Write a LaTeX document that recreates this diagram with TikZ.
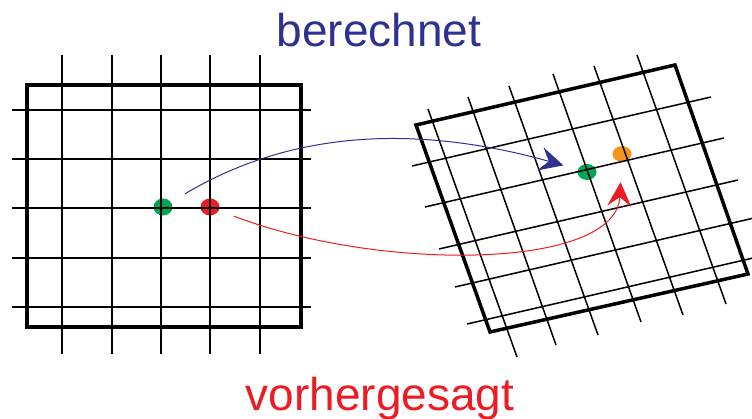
\documentclass[tikz,border=0pt]{standalone}
\usepackage{fontspec}
\setmainfont{Liberation Sans}
\usetikzlibrary{arrows.meta,shapes.geometric}
\definecolor{calcblue}{HTML}{2E3192}
\definecolor{predred}{HTML}{ED1C24}
\definecolor{dotgreen}{HTML}{00A651}
\definecolor{dotorange}{HTML}{F7941D}

\begin{document}
\begin{tikzpicture}[
    x=1pt, y=-1pt,
    lbl/.style={font=\fontsize{46}{50}\selectfont, inner sep=0pt},
    dot/.style={ellipse, minimum width=19pt, minimum height=17pt, inner sep=0pt},
    gridline/.style={line width=1.8pt},
    tiltline/.style={line width=1.5pt},
    frame/.style={line width=4pt, line join=miter},
    tiltframe/.style={line width=3.5pt, line join=miter},
    arr/.style={-{Stealth[length=24pt, width=24pt, inset=9pt]}, line width=1pt}
]
\useasboundingbox (0,0) rectangle (752,419);

\node[dot, fill=dotgreen] (gL) at (163,207) {};
\node[dot, fill=predred] (rL) at (210,207) {};
\node[dot, fill=dotgreen, minimum height=16pt] (gR) at (587,172) {};
\node[dot, fill=dotorange, minimum height=16pt] (oR) at (622,154) {};

% left grid
\foreach \x in {62,112,161,210,260}
    \draw[gridline] (\x,55) -- (\x,354);
\foreach \y in {110,159,208,258,307}
    \draw[gridline] (12,\y) -- (311,\y);
\draw[frame] (27,85) rectangle (301,327);

% right grid
\foreach \a/\b/\c/\d in {428/109/517/357, 468/97/556/345, 509/86/598/335,
    553/74/641/322, 594/66/683/315, 637/55/726/304}
    \draw[tiltline] (\a,\b) -- (\c,\d);
\foreach \a/\b/\c/\d in {412/166/711/97, 425/207/724/138, 439/249/738/180,
    455/287/754/218, 467/324/766/255}
    \draw[tiltline] (\a,\b) -- (\c,\d);
\draw[tiltframe] (416,125) -- (675,65) -- (748,274) -- (490,332) -- cycle;

\draw[arr, calcblue, shorten <=16pt, shorten >=15pt]
    (gL) .. controls (300,125) and (430,128) .. (gR);
\draw[arr, predred, shorten <=16pt, shorten >=20pt]
    (rL) .. controls (380,272) and (616,270) .. (oR);

\node[lbl, text=calcblue, anchor=base] (calc) at (379,47) {berechnet};
\node[lbl, text=predred, anchor=base] (pred) at (380,410) {vorhergesagt};
\end{tikzpicture}
\end{document}
